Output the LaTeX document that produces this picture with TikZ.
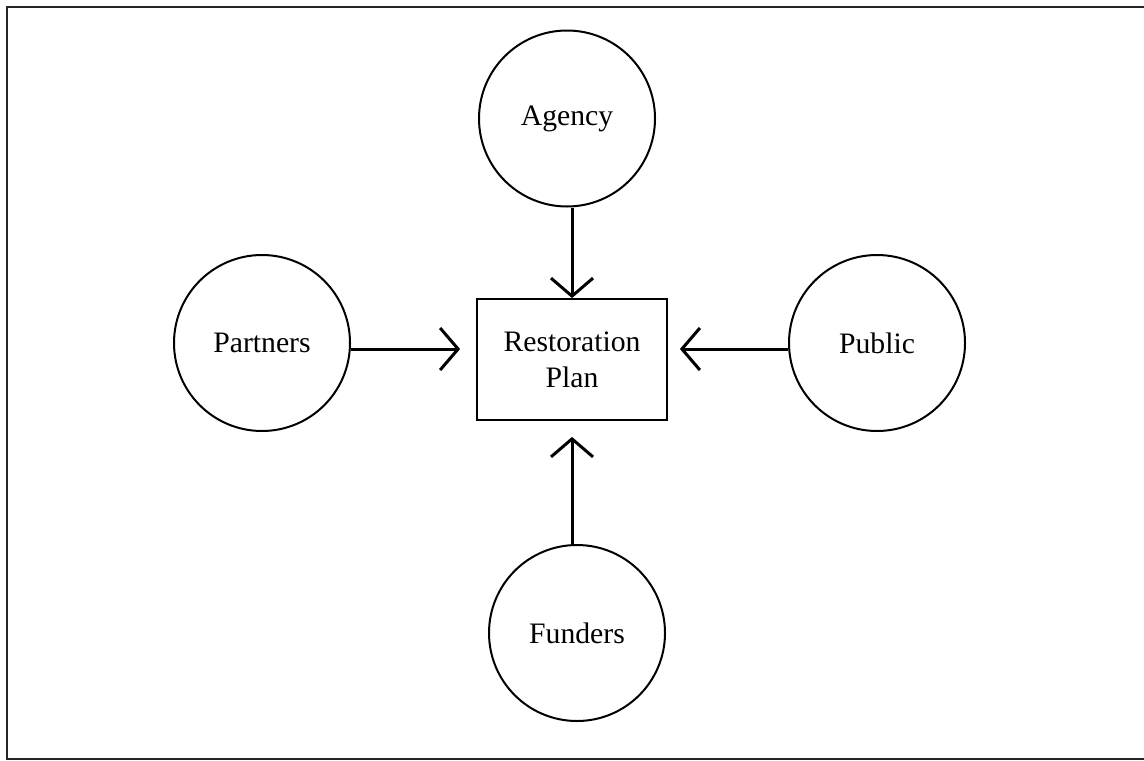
\documentclass[tikz,border=0pt]{standalone}
\usepackage{fontspec}
\setmainfont{Liberation Serif}
\usetikzlibrary{arrows.meta}

\begin{document}
\begin{tikzpicture}[x=0.5pt, y=-0.5pt,
    font=\fontsize{14.85}{18}\selectfont,
    party/.style={draw, line width=1pt, circle, minimum size=88pt, inner sep=0pt},
    plan/.style={draw, line width=0.9pt, minimum width=95pt, minimum height=60.5pt, align=center, inner sep=0pt},
    arr/.style={line width=1.5pt, -{Straight Barb[length=9pt, width=21pt, line width=1.5pt]}}]
  \useasboundingbox (0,0) rectangle (1144,760);
  \draw[line width=1pt, black!85] (7,7) rectangle (1150,759);
  % the plan and the four parties
  \node[plan] (plan) at (572,359.5) {Restoration\\Plan};
  \node[party] (agency) at (567,118.5) {Agency};
  \node[party] (partners) at (262,343) {Partners};
  \node[party] (public) at (877,343) {Public};
  \node[party] (funders) at (577,633) {Funders};
  % arrows into the plan
  \draw[arr] (agency.south -| plan.north) -- (plan.north);
  \draw[arr, shorten >=8pt] ([yshift=-3pt]partners.east) -- ([yshift=-3pt]partners.east -| plan.west);
  \draw[arr, shorten >=6pt] ([yshift=-3pt]public.west) -- ([yshift=-3pt]public.west -| plan.east);
  \draw[arr, shorten >=8pt] (funders.north -| plan.south) -- (plan.south);
\end{tikzpicture}
\end{document}
